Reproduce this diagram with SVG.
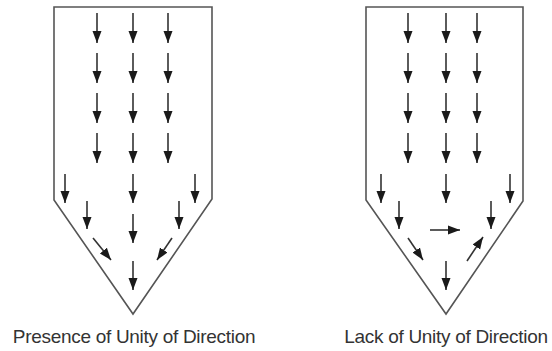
<svg xmlns="http://www.w3.org/2000/svg" width="552" height="351" viewBox="0 0 552 351">
<style>
.shape{fill:none;stroke:#555;stroke-width:1.6}
.arr{stroke:#333;stroke-width:1.6;fill:none;marker-end:url(#ah)}
.lbl{font-family:"Liberation Sans",Arial,sans-serif;font-size:19px;fill:#333;text-anchor:middle;letter-spacing:-0.3px}
</style>
<defs>
<marker id="ah" markerUnits="userSpaceOnUse" markerWidth="13" markerHeight="11" viewBox="0 0 13 11" refX="12" refY="5.5" orient="auto">
<path d="M0,1 L12,5.5 L0,10 Z" fill="#1a1a1a"/>
</marker>
</defs>
<rect width="552" height="351" fill="#fff"/>
<g id="left">
<path class="shape" d="M54,7 H212 V199 L133,314 L54,200 Z"/>
<g id="left-arrows">
<line class="arr" x1="97" y1="13" x2="97" y2="43"/>
<line class="arr" x1="133" y1="13" x2="133" y2="43"/>
<line class="arr" x1="168" y1="13" x2="168" y2="43"/>
<line class="arr" x1="97" y1="53" x2="97" y2="83"/>
<line class="arr" x1="133" y1="53" x2="133" y2="83"/>
<line class="arr" x1="168" y1="53" x2="168" y2="83"/>
<line class="arr" x1="97" y1="93" x2="97" y2="123"/>
<line class="arr" x1="133" y1="93" x2="133" y2="123"/>
<line class="arr" x1="168" y1="93" x2="168" y2="123"/>
<line class="arr" x1="97" y1="133" x2="97" y2="163"/>
<line class="arr" x1="133" y1="133" x2="133" y2="163"/>
<line class="arr" x1="168" y1="133" x2="168" y2="163"/>
<line class="arr" x1="65" y1="174" x2="65" y2="203"/>
<line class="arr" x1="133" y1="174" x2="133" y2="203"/>
<line class="arr" x1="195" y1="174" x2="195" y2="203"/>
<line class="arr" x1="87" y1="201" x2="87" y2="229"/>
<line class="arr" x1="179" y1="201" x2="179" y2="229"/>
<line class="arr" x1="133" y1="214" x2="133" y2="243"/>
<line class="arr" x1="93" y1="238" x2="111" y2="260"/>
<line class="arr" x1="172" y1="238" x2="157" y2="260"/>
<line class="arr" x1="133" y1="261" x2="133" y2="290"/>
</g>
<text class="lbl" x="134" y="343">Presence of Unity of Direction</text>
</g>
<g id="right">
<path class="shape" d="M366,7 H523 V201 L446,314 L366,200 Z"/>
<g id="right-arrows">
<line class="arr" x1="408" y1="13" x2="408" y2="43"/>
<line class="arr" x1="446" y1="13" x2="446" y2="43"/>
<line class="arr" x1="477" y1="13" x2="477" y2="43"/>
<line class="arr" x1="408" y1="53" x2="408" y2="83"/>
<line class="arr" x1="446" y1="53" x2="446" y2="83"/>
<line class="arr" x1="477" y1="53" x2="477" y2="83"/>
<line class="arr" x1="408" y1="93" x2="408" y2="123"/>
<line class="arr" x1="446" y1="93" x2="446" y2="123"/>
<line class="arr" x1="477" y1="93" x2="477" y2="123"/>
<line class="arr" x1="408" y1="133" x2="408" y2="163"/>
<line class="arr" x1="446" y1="133" x2="446" y2="163"/>
<line class="arr" x1="477" y1="133" x2="477" y2="163"/>
<line class="arr" x1="381" y1="174" x2="381" y2="203"/>
<line class="arr" x1="446" y1="174" x2="446" y2="203"/>
<line class="arr" x1="510" y1="174" x2="510" y2="203"/>
<line class="arr" x1="399" y1="201" x2="399" y2="229"/>
<line class="arr" x1="491" y1="201" x2="491" y2="229"/>
<line class="arr" x1="430" y1="230" x2="460" y2="230"/>
<line class="arr" x1="408" y1="238" x2="423" y2="260"/>
<line class="arr" x1="467" y1="261" x2="483" y2="237"/>
<line class="arr" x1="446" y1="261" x2="446" y2="290"/>
</g>
<text class="lbl" x="446" y="343">Lack of Unity of Direction</text>
</g>
</svg>
